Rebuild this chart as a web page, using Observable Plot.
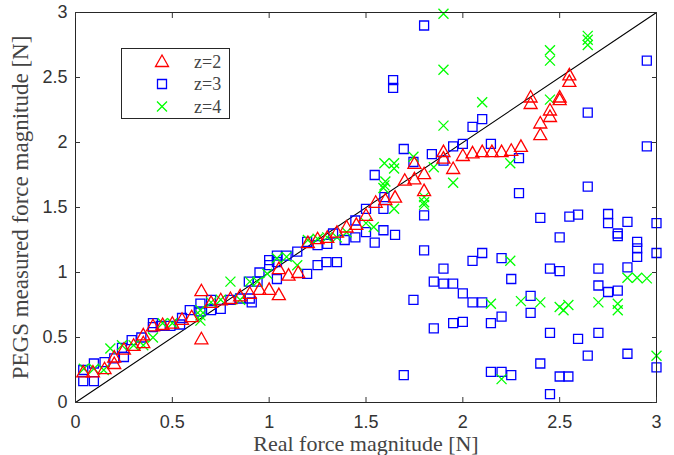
<!DOCTYPE html>
<html><head><meta charset="utf-8">
<script src="https://cdn.jsdelivr.net/npm/d3@7"></script>
<script src="https://cdn.jsdelivr.net/npm/@observablehq/plot@0.6"></script>
<style>body{margin:0;background:#fff}</style>
</head><body><div id="chart"></div>
<script>
const xTicks = [0, 0.5, 1, 1.5, 2, 2.5, 3];
const yTicks = [0, 0.5, 1, 1.5, 2, 2.5, 3];
const xLabel = "Real force magnitude [N]";
const yLabel = "PEGS measured force magnitude [N]";
const seriesNames = ["z=2", "z=3", "z=4"];
const seriesColors = ["#ff0000", "#0000ff", "#00ff00"];
const refLine = [0, 3];

// z=2 (red triangles)
const z2x = [0.04,0.09,0.15,0.20,0.20,0.25,0.30,0.35,0.35,0.40,0.45,0.50,0.55,0.60,0.65,0.65,0.70,0.75,0.80,0.85,0.90,0.95,1.00,1.05,1.05,1.10,1.15,1.20,1.25,1.30,1.35,1.40,1.45,1.50,1.55,1.60,1.65,1.70,1.75,1.75,1.80,1.80,1.90,1.90,1.95,2.00,2.05,2.10,2.15,2.20,2.25,2.30,2.35,2.35,2.40,2.40,2.45,2.45,2.50,2.50,2.55,2.55];
const z2y = [0.235,0.235,0.26,0.30,0.35,0.41,0.44,0.46,0.52,0.59,0.60,0.61,0.64,0.66,0.86,0.49,0.77,0.79,0.80,0.82,0.84,0.87,0.87,0.83,1.03,0.98,1.00,1.23,1.26,1.27,1.31,1.35,1.37,1.44,1.54,1.56,1.58,1.71,1.72,1.84,1.76,1.63,1.93,1.88,1.80,1.90,1.92,1.93,1.93,1.93,1.94,1.97,2.35,2.30,2.15,2.06,2.25,2.20,2.35,2.33,2.52,2.47];

// z=3 (blue squares)
const z3x = [0.04,0.04,0.095,0.095,0.15,0.20,0.25,0.24,0.29,0.34,0.40,0.40,0.44,0.49,0.54,0.55,0.59,0.645,0.645,0.70,0.70,0.75,0.80,0.85,0.895,0.90,0.91,0.94,0.95,1.00,1.00,1.04,1.04,1.04,1.09,1.145,1.196,1.25,1.296,1.35,1.196,1.25,1.30,1.33,1.39,1.445,1.445,1.50,1.50,1.545,1.545,1.59,1.59,1.65,1.595,
  1.695,1.745,1.80,1.64,1.64,1.84,1.90,1.95,2.00,2.05,2.10,2.145,2.29,2.29,1.80,1.80,1.90,2.05,2.10,2.20,2.25,1.85,1.90,1.95,2.00,2.05,2.10,1.745,1.85,1.95,2.00,2.145,2.20,1.695,2.145,2.20,2.25,
  2.95,2.645,2.95,2.645,2.40,2.55,2.595,2.75,2.75,2.85,3.00,2.80,2.80,2.50,2.90,2.90,2.90,3.00,2.45,2.50,2.70,2.85,2.70,2.75,2.80,2.35,2.35,2.45,2.595,2.70,2.645,2.85,2.40,3.00,2.50,2.545,2.45];
const z3y = [0.25,0.165,0.30,0.165,0.31,0.34,0.35,0.42,0.48,0.50,0.58,0.61,0.59,0.59,0.60,0.65,0.71,0.76,0.70,0.79,0.71,0.72,0.79,0.80,0.93,0.80,0.77,0.93,1.00,1.095,1.056,1.13,0.95,1.08,1.13,1.16,0.99,1.056,1.08,1.08,1.235,1.21,1.22,1.30,1.25,1.27,1.40,1.49,1.31,1.75,1.23,1.49,1.325,1.29,1.58,
  1.95,1.85,2.90,2.48,2.42,1.91,1.86,1.97,1.99,2.12,2.18,1.99,1.88,1.61,1.44,1.17,1.03,1.09,1.15,1.11,0.95,0.93,0.915,0.915,0.84,0.77,0.77,0.79,0.57,0.61,0.62,0.61,0.66,0.21,0.235,0.235,0.21,
  2.63,2.23,1.97,1.66,1.42,1.43,1.445,1.45,1.38,1.39,1.38,1.30,1.28,1.27,1.235,1.185,1.12,1.15,1.03,1.01,1.03,1.04,0.90,0.85,0.86,0.82,0.69,0.535,0.49,0.535,0.36,0.375,0.30,0.27,0.20,0.20,0.064];

// z=4 (green crosses)
const z4x = [0.043,0.095,0.146,0.18,0.24,0.30,0.35,0.40,0.45,0.50,0.645,0.645,0.645,0.70,0.75,0.80,0.85,0.90,0.94,0.99,1.04,1.09,1.145,1.20,1.25,1.30,1.35,1.40,1.50,1.54,1.595,1.60,1.595,1.645,1.645,1.59,1.645,
  1.745,1.80,1.80,1.80,1.85,1.95,1.90,1.90,2.10,1.90,2.245,2.245,2.145,2.30,2.40,2.50,2.52,2.545,2.70,2.80,2.80,2.85,2.90,2.95,3.00,2.20,2.45,2.45,2.645,2.645,2.645,2.45];
const z4y = [0.26,0.26,0.25,0.415,0.44,0.44,0.44,0.50,0.61,0.61,0.67,0.63,0.71,0.77,0.79,0.93,0.79,0.93,0.93,0.99,1.11,1.12,1.056,1.25,1.26,1.27,1.27,1.31,1.38,1.35,1.67,1.70,1.84,1.84,1.80,1.65,1.49,
  1.89,1.54,1.52,1.58,1.81,1.69,2.99,2.56,2.31,2.13,1.84,1.09,0.76,0.78,0.77,0.735,0.71,0.75,0.77,0.76,0.71,0.96,0.96,0.955,0.36,0.18,2.71,2.63,2.82,2.79,2.75,2.33];

const triSym = {draw(ctx) { ctx.moveTo(0, -6.5); ctx.lineTo(6.5, 5); ctx.lineTo(-6.5, 5); ctx.closePath(); }};
const sqSym = {draw(ctx) { ctx.moveTo(-4.5, -4.5); ctx.lineTo(4.5, -4.5); ctx.lineTo(4.5, 4.5); ctx.lineTo(-4.5, 4.5); ctx.closePath(); }};
const xSym = {draw(ctx) { ctx.moveTo(-5, -5); ctx.lineTo(5, 5); ctx.moveTo(5, -5); ctx.lineTo(-5, 5); }};
const symbols = [triSym, sqSym, xSym];

const rows = (xs, ys) => xs.map((x, i) => ({x, y: ys[i]}));
const fmt = d => String(d);
const serif = "'Liberation Serif', 'Times New Roman', serif";

const chart = Plot.plot({
  width: 674, height: 455,
  marginLeft: 75, marginRight: 18, marginTop: 12, marginBottom: 53,
  style: {fontFamily: "'Liberation Sans', Arial, sans-serif", fontSize: "18px", color: "#333", background: "#fff"},
  x: {domain: [0, 3]},
  y: {domain: [0, 3]},
  marks: [
    Plot.line(refLine.map(v => ({x: v, y: v})), {x: "x", y: "y", stroke: "#000", strokeWidth: 1.1}),
    Plot.dot(rows(z3x, z3y), {x: "x", y: "y", symbol: sqSym, stroke: seriesColors[1], fill: "none", strokeWidth: 1.3}),
    Plot.dot(rows(z4x, z4y), {x: "x", y: "y", symbol: xSym, stroke: seriesColors[2], fill: "none", strokeWidth: 1.3}),
    Plot.dot(rows(z2x, z2y), {x: "x", y: "y", symbol: triSym, stroke: seriesColors[0], fill: "none", strokeWidth: 1.3}),
    Plot.frame({stroke: "#262626"}),
    Plot.axisX(xTicks, {anchor: "bottom", tickSize: -5, tickPadding: 18, tickFormat: fmt, label: null}),
    Plot.axisX(xTicks, {anchor: "top", tickSize: -5, tickFormat: () => "", label: null}),
    Plot.axisY(yTicks, {anchor: "left", tickSize: -5, tickPadding: 13, tickFormat: fmt, label: null}),
    Plot.axisY(yTicks, {anchor: "right", tickSize: -5, tickFormat: () => "", label: null}),
    Plot.text([xLabel], {text: d => d, frameAnchor: "bottom", dy: 48, lineAnchor: "bottom", textAnchor: "middle", fontFamily: serif, fontSize: 22, fill: "#444"}),
    Plot.text([yLabel], {text: d => d, frameAnchor: "left", dx: -48, rotate: -90, lineAnchor: "bottom", textAnchor: "middle", fontFamily: serif, fontSize: 23, fill: "#444"})
  ]
});
document.getElementById("chart").appendChild(chart);

// legend inside the axes
const svg = d3.select(chart);
const lg = svg.append("g");
lg.append("rect").attr("x", 121.5).attr("y", 48.5).attr("width", 108).attr("height", 70)
  .attr("fill", "#fff").attr("stroke", "#262626").attr("stroke-width", 1);
const rowY = [61.5, 84, 106.5];
seriesNames.forEach((name, i) => {
  const p = d3.path(); symbols[i].draw(p);
  lg.append("path").attr("d", p.toString()).attr("transform", `translate(162,${rowY[i]})`)
    .attr("fill", "none").attr("stroke", seriesColors[i]).attr("stroke-width", 1.3);
  lg.append("text").attr("x", 194).attr("y", rowY[i] + 6).text(name)
    .attr("text-anchor", "start")
    .attr("font-family", serif).style("font-family", serif).style("font-size", "18px").attr("fill", "#444");
});
</script>
</body></html>
